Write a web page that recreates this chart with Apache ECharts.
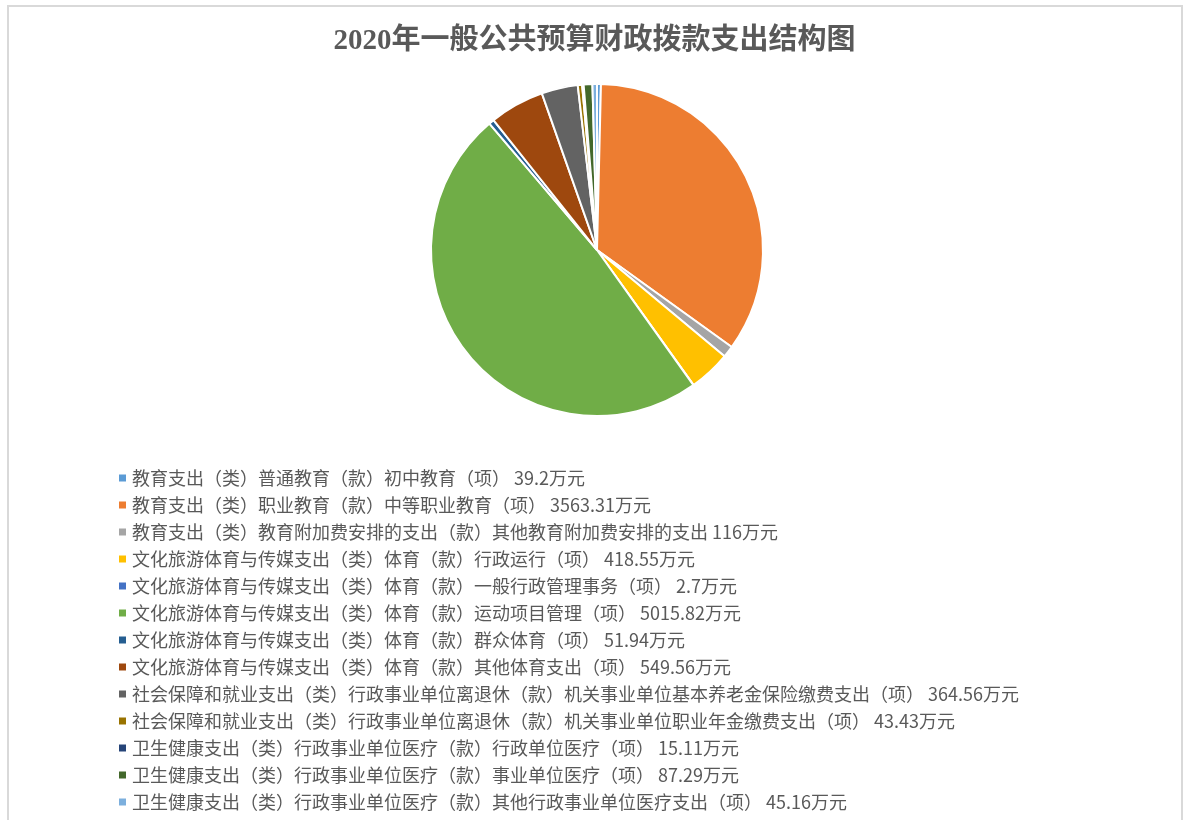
<!DOCTYPE html>
<html>
<head>
<meta charset="utf-8">
<script src="https://cdn.jsdelivr.net/npm/echarts@6/dist/echarts.min.js"></script>
<style>
  html, body { margin: 0; padding: 0; background: #fff; }
  #frame {
    position: absolute; left: 7px; top: 5px; width: 1176px; height: 830px;
    border: 2px solid #d9d9d9; box-sizing: border-box;
  }
  #chart { position: absolute; left: 0; top: 0; width: 1189px; height: 820px; }
</style>
</head>
<body>
<div id="frame"></div>
<div id="chart"></div>
<script>
const categories = [
  '教育支出（类）普通教育（款）初中教育（项）',
  '教育支出（类）职业教育（款）中等职业教育（项）',
  '教育支出（类）教育附加费安排的支出（款）其他教育附加费安排的支出',
  '文化旅游体育与传媒支出（类）体育（款）行政运行（项）',
  '文化旅游体育与传媒支出（类）体育（款）一般行政管理事务（项）',
  '文化旅游体育与传媒支出（类）体育（款）运动项目管理（项）',
  '文化旅游体育与传媒支出（类）体育（款）群众体育（项）',
  '文化旅游体育与传媒支出（类）体育（款）其他体育支出（项）',
  '社会保障和就业支出（类）行政事业单位离退休（款）机关事业单位基本养老金保险缴费支出（项）',
  '社会保障和就业支出（类）行政事业单位离退休（款）机关事业单位职业年金缴费支出（项）',
  '卫生健康支出（类）行政事业单位医疗（款）行政单位医疗（项）',
  '卫生健康支出（类）行政事业单位医疗（款）事业单位医疗（项）',
  '卫生健康支出（类）行政事业单位医疗（款）其他行政事业单位医疗支出（项）'
]
const values = [39.2, 3563.31, 116, 418.55, 2.7, 5015.82, 51.94, 549.56, 364.56, 43.43, 15.11, 87.29, 45.16]
const colors = ['#5B9BD5', '#ED7D31', '#A5A5A5', '#FFC000', '#4472C4', '#70AD47',
  '#255E91', '#9E480E', '#636363', '#997300', '#264478', '#43682B', '#7CAFDD']
const unit = '万元'

const chart = echarts.init(document.getElementById('chart'))

const labels = categories.map((c, i) => c + ' ' + values[i] + unit)

chart.setOption({
  animation: false,
  color: colors,
  title: {
    text: '2020年一般公共预算财政拨款支出结构图',
    left: 'center',
    top: 22,
    textStyle: {
      fontFamily: '"Liberation Serif", "Noto Sans CJK SC", serif',
      fontSize: 29,
      fontWeight: 'bold',
      color: '#595959'
    }
  },
  legend: {
    orient: 'vertical',
    left: 117,
    top: 468,
    padding: 0,
    icon: 'rect',
    itemWidth: 9,
    itemHeight: 9,
    itemGap: 7,
    data: labels,
    textStyle: {
      fontFamily: '"Noto Sans CJK SC", sans-serif',
      fontSize: 18,
      lineHeight: 20,
      color: '#595959'
    }
  },
  series: [{
    type: 'pie',
    center: [597, 250],
    radius: 166,
    startAngle: 90,
    clockwise: true,
    label: { show: false },
    labelLine: { show: false },
    itemStyle: { borderColor: '#fff', borderWidth: 2 },
    emphasis: { disabled: true },
    data: values.map((v, i) => ({ name: labels[i], value: v }))
  }]
})
</script>
</body>
</html>
